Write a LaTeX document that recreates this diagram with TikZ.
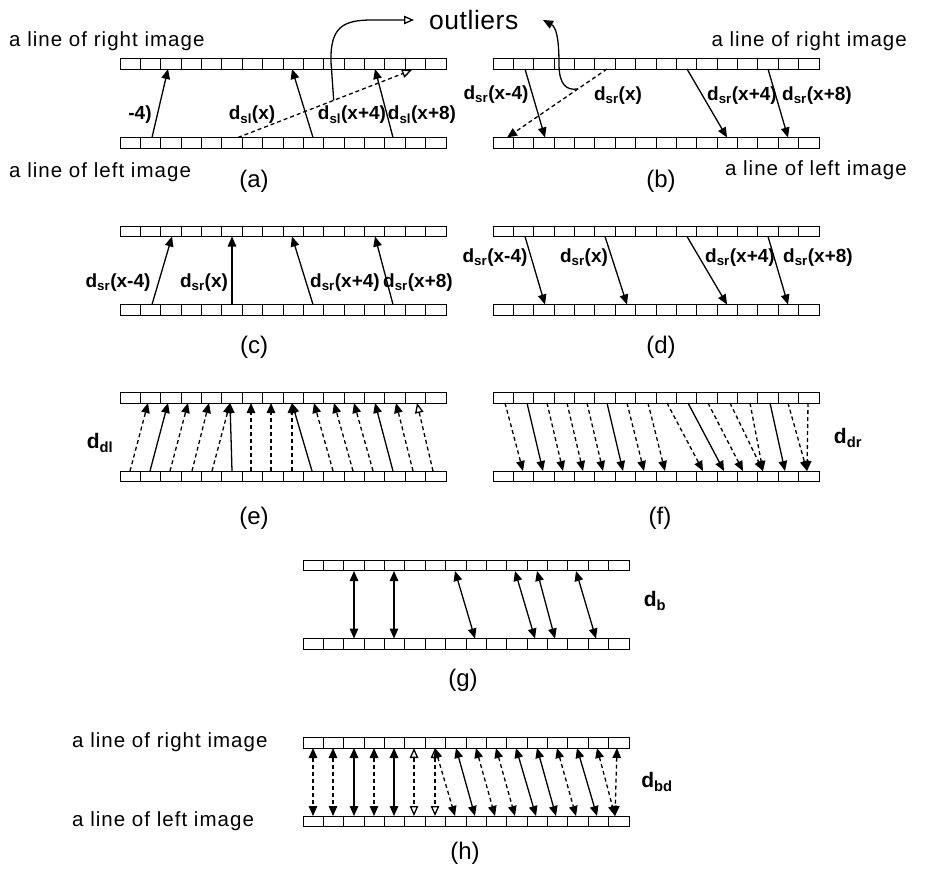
\documentclass[tikz,border=0pt]{standalone}
\usepackage{fontspec}
\setmainfont{Liberation Sans}
\usetikzlibrary{arrows.meta,calc}
\newcommand\cw{20.375}
\newcommand\cellstrip[3]{%
  \foreach \i in {0,...,15} {\draw[cellbox] ({#2+\i*\cw},#3) rectangle ++(\cw,10.5);}
  \coordinate (#1) at (#2,#3);}
\newcommand\dsub[2]{d\textsubscript{#1}#2}
\tikzset{
  mtip/.tip={Triangle[length=10pt,width=8.5pt]},
  motip/.tip={Triangle[open,length=10pt,width=8.5pt]},
  cellbox/.style={draw, line width=0.9pt},
  arr/.style={line width=1.3pt, -mtip},
  darr/.style={arr, dash pattern=on 4pt off 3pt},
  oarr/.style={line width=1.3pt, dash pattern=on 4pt off 3pt, -motip},
  barr/.style={line width=1.3pt, mtip-mtip},
  dbarr/.style={barr, dash pattern=on 4pt off 3pt},
  obarr/.style={line width=1.3pt, dash pattern=on 4pt off 3pt, motip-motip},
  lab/.style={inner sep=0pt, font=\fontsize{20.5}{24}\selectfont\addfontfeature{LetterSpace=5}},
  captxt/.style={inner sep=0pt, font=\fontsize{24}{28}\selectfont},
  dlab/.style={inner sep=0pt, font=\bfseries\fontsize{19}{22}\selectfont},
  blab/.style={inner sep=0pt, font=\bfseries\fontsize{21}{24}\selectfont},
}
\begin{document}
\begin{tikzpicture}[x=1pt,y=-1pt]
\useasboundingbox (0,0) rectangle (928,870);
% ---------- strips ----------
\cellstrip{at}{120}{58.5}  \cellstrip{ab}{120}{137.5}
\cellstrip{bt}{493}{58.5}  \cellstrip{bb}{493}{137.5}
\cellstrip{ct}{120}{226}   \cellstrip{cb}{120}{304.5}
\cellstrip{dt}{493}{226}   \cellstrip{db}{493}{304.5}
\cellstrip{et}{120}{392.5} \cellstrip{eb}{120}{471}
\cellstrip{ft}{493}{392.5} \cellstrip{fb}{493}{471}
\cellstrip{gt}{303}{560}   \cellstrip{gb}{303}{638.5}
\cellstrip{ht}{303}{737.5} \cellstrip{hb}{303}{816}
% ---------- texts (a)(b) ----------
\node[lab,anchor=west] (rA) at (9,41) {a line of right image};
\node[lab,anchor=west] (lA) at (9,172) {a line of left image};
\node[lab,anchor=east] (rB) at (907,41) {a line of right image};
\node[lab,anchor=east] (lB) at (907,170) {a line of left image};
\node[captxt] (capa) at (254,181) {(a)};
\node[captxt] (capb) at (661,181) {(b)};
\node[inner sep=0pt,anchor=west,font=\fontsize{26.5}{30}\selectfont\addfontfeature{LetterSpace=2}] (out) at (429,20) {outliers};
% ---------- panel (a) ----------
\def\T{69}\def\B{137.5}
\draw[arr] (152,\B) -- (168,\T);
\draw[arr] (313,\B) -- (292,\T);
\draw[arr] (393,\B) -- (375,\T);
\coordinate (aS) at (238,\B); \coordinate (aE) at (412,70);
\draw[oarr] (aS) -- (aE);
\coordinate (oa) at ($(aS)!0.55!(aE)$);
\draw[line width=1.3pt,-motip] (oa) -- (331,62) .. controls (330,27) and (343,20) .. (372,20) -- ([xshift=-15pt]out.west);
\node[dlab] (la1) at (140,115) {-4)};
\node[dlab] (la2) at (252,115) {\dsub{sl}{(x)}};
\node[dlab] (la3) at (352,115) {\dsub{sl}{(x+4)}};
\node[dlab] (la4) at (422,115) {\dsub{sl}{(x+8)}};
% ---------- panel (b) ----------
\draw[arr] (525,\T) -- (545,\B);
\draw[arr] (687,\T) -- (727,\B);
\draw[arr] (768,\T) -- (788,\B);
\coordinate (bS) at (607,\T); \coordinate (bE) at (507,\B);
\draw[darr] (bS) -- (bE);
\coordinate (ob) at ($(bS)!0.29!(bE)$);
\draw[line width=1.3pt,-mtip] (ob) .. controls (566,91) and (559,84) .. (559,64) .. controls (559,38) and (556,27) .. (543,20);
\node[dlab] (lb1) at (496,95) {\dsub{sr}{(x-4)}};
\node[dlab] (lb2) at (618,96) {\dsub{sr}{(x)}};
\node[dlab] (lb3) at (742,96) {\dsub{sr}{(x+4)}};
\node[dlab] (lb4) at (817,96) {\dsub{sr}{(x+8)}};
% ---------- panel (c) ----------
\def\T{236.5}\def\B{304.5}
\draw[arr] (152,\B) -- (172,\T);
\draw[arr] (232,\B) -- (232,\T);
\draw[arr] (313,\B) -- (292,\T);
\draw[arr] (393,\B) -- (375,\T);
\node[dlab] (lc1) at (118,283) {\dsub{sr}{(x-4)}};
\node[dlab] (lc2) at (204,283) {\dsub{sr}{(x)}};
\node[dlab] (lc3) at (345,283) {\dsub{sr}{(x+4)}};
\node[dlab] (lc4) at (418,283) {\dsub{sr}{(x+8)}};
\node[captxt] (capc) at (254,347) {(c)};
% ---------- panel (d) ----------
\draw[arr] (525,\T) -- (545,\B);
\draw[arr] (605,\T) -- (627,\B);
\draw[arr] (687,\T) -- (727,\B);
\draw[arr] (768,\T) -- (788,\B);
\node[dlab] (ld1) at (495,258) {\dsub{sr}{(x-4)}};
\node[dlab] (ld2) at (584,258) {\dsub{sr}{(x)}};
\node[dlab] (ld3) at (740,258) {\dsub{sr}{(x+4)}};
\node[dlab] (ld4) at (818,258) {\dsub{sr}{(x+8)}};
\node[captxt] (capd) at (661,347) {(d)};
% ---------- panel (e) ----------
\def\T{403}\def\B{471}
\foreach \s/\b/\t in {darr/130/148, arr/150/168, darr/170/188, darr/192/209, darr/212/230,
  arr/232/230, darr/251/251, darr/271/271, darr/292/292, arr/312/292, darr/333/314,
  darr/353/334, darr/373/354, arr/393/375, darr/413/396, oarr/433/417}
  {\draw[\s] (\b,\B) -- (\t,\T);}
\node[blab] (lde) at (100,443) {\dsub{dl}{}};
\node[captxt] (cape) at (254,518) {(e)};
% ---------- panel (f) ----------
\foreach \s/\t/\b in {darr/505/523, arr/527/543, darr/547/563, darr/567/583, darr/587/603,
  arr/607/623, darr/627/644, darr/648/665, darr/667/703, arr/688/724, darr/708/743,
  darr/730/763, darr/750/763, arr/770/785, darr/788/807, darr/808/807}
  {\draw[\s] (\t,\T) -- (\b,\B);}
\node[blab] (ldf) at (848,438) {\dsub{dr}{}};
\node[captxt] (capf) at (660,518) {(f)};
% ---------- panel (g) ----------
\def\T{571}\def\B{638.5}
\foreach \t/\b in {354/354, 394/394, 455/475, 515/535, 537/555, 576/596}
  {\draw[barr] (\t,\T) -- (\b,\B);}
\node[blab] (ldg) at (655,601) {\dsub{b}{}};
\node[captxt] (capg) at (463,680) {(g)};
% ---------- panel (h) ----------
\def\T{748}\def\B{816}
\foreach \s/\t/\b in {dbarr/313/313, dbarr/333/333, barr/354/354, dbarr/374/374, barr/394/394,
  obarr/414/414, obarr/435/435, dbarr/435/455, barr/456/475, dbarr/476/495, dbarr/496/515,
  barr/516/536, barr/537/556, dbarr/557/576, barr/577/597, dbarr/597/615, dbarr/617/615}
  {\draw[\s] (\t,\T) -- (\b,\B);}
\node[lab,anchor=west] (rH) at (72,742) {a line of right image};
\node[lab,anchor=west] (lH) at (72,821) {a line of left image};
\node[blab] (ldh) at (657,782) {\dsub{bd}{}};
\node[captxt] (caph) at (465,853) {(h)};
\end{tikzpicture}
\end{document}
